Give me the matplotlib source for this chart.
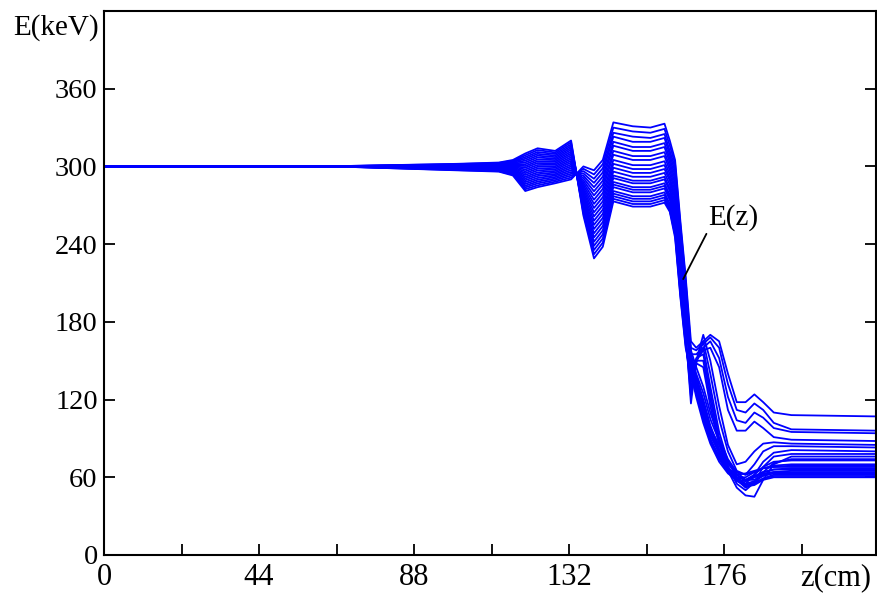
import matplotlib
matplotlib.use("Agg")
import matplotlib.pyplot as plt

plt.rcParams["font.family"] = ["Liberation Serif", "DejaVu Serif"]

# axial positions (cm) at which every particle energy is sampled
z_cm = [0, 60, 70, 100, 112, 116, 119.5, 123, 128, 132.5, 136, 139, 141.5,
        144.5, 150, 155, 159, 160.5, 162, 163.5, 165, 166.5, 168, 170, 172,
        174.5, 177, 179.5, 182, 184.5, 187, 190, 195, 219]

# particle energies (keV) along z, one list per particle
track_00 = [300, 300, 299.6, 297.0, 296.0, 293.0, 281.0, 284.0, 287.0, 290.0, 300.0, 297.0, 305.0,
            334, 331, 330, 333, 320, 305, 258, 215,
            165, 160, 165, 170, 165, 140, 118, 118, 124, 118, 110, 108, 107]
track_01 = [300, 300, 299.6, 297.2, 296.3, 293.6, 282.4, 285.4, 288.2, 291.4, 298.2, 293.8, 301.8,
            330, 327, 326, 329, 316, 302, 255, 212,
            160, 158, 163, 168, 160, 132, 112, 110, 117, 112, 102, 97, 96]
track_02 = [300, 300, 299.7, 297.5, 296.7, 294.1, 283.8, 286.9, 289.4, 292.9, 296.4, 290.5, 298.6,
            326, 323, 322, 325, 312, 299, 252, 209,
            155, 155, 160, 165, 152, 122, 104, 102, 110, 106, 98, 95, 94]
track_03 = [300, 300, 299.7, 297.7, 297.0, 294.7, 285.1, 288.3, 290.6, 294.3, 294.6, 287.3, 295.4,
            323, 319, 319, 322, 309, 296, 249, 206,
            150, 150, 158, 160, 145, 112, 96, 96, 103, 98, 91, 89, 88]
track_04 = [300, 300, 299.8, 298.0, 297.3, 295.3, 286.5, 289.7, 291.8, 295.7, 292.8, 284.0, 292.2,
            319, 315, 315, 318, 306, 293, 246, 202,
            150, 135, 115, 98, 85, 72, 62, 58, 62, 68, 72, 73, 73]
track_05 = [300, 300, 299.8, 298.2, 297.7, 295.9, 287.9, 291.1, 293.0, 297.1, 291.0, 280.8, 289.0,
            316, 312, 312, 315, 303, 290, 243, 200,
            148, 130, 110, 92, 80, 70, 64, 62, 64, 67, 69, 70, 70]
track_06 = [300, 300, 299.8, 298.4, 298.0, 296.4, 289.3, 292.6, 294.1, 298.6, 289.1, 277.6, 285.9,
            312, 308, 308, 311, 300, 287, 240, 198,
            152, 138, 120, 100, 82, 68, 60, 60, 64, 67, 68, 69, 69]
track_07 = [300, 300, 299.9, 298.7, 298.3, 297.0, 290.7, 294.0, 295.3, 300.0, 287.3, 274.3, 282.7,
            309, 305, 305, 308, 297, 284, 237, 196,
            145, 128, 108, 90, 76, 66, 62, 63, 65, 67, 68, 68, 68]
track_08 = [300, 300, 299.9, 298.9, 298.7, 297.6, 292.0, 295.4, 296.5, 301.4, 285.5, 271.1, 279.5,
            305, 301, 301, 304, 294, 281, 234, 193,
            155, 140, 125, 105, 88, 72, 62, 57, 60, 64, 66, 67, 67]
track_09 = [300, 300, 299.9, 299.1, 299.0, 298.1, 293.4, 296.9, 297.7, 302.9, 283.7, 267.9, 276.3,
            302, 298, 298, 301, 291, 278, 231, 191,
            142, 125, 105, 88, 75, 66, 60, 58, 61, 64, 66, 66, 66]
track_10 = [300, 300, 300.0, 299.4, 299.3, 298.7, 294.8, 298.3, 298.9, 304.3, 281.9, 264.6, 273.1,
            299, 295, 295, 298, 289, 275, 228, 189,
            158, 145, 130, 110, 90, 74, 64, 58, 58, 62, 64, 65, 65]
track_11 = [300, 300, 300.0, 299.6, 299.7, 299.3, 296.2, 299.7, 300.1, 305.7, 280.1, 261.4, 269.9,
            296, 292, 292, 295, 286, 272, 225, 186,
            140, 122, 102, 86, 72, 63, 58, 57, 60, 63, 64, 64, 64]
track_12 = [300, 300, 300.1, 299.9, 300.0, 299.9, 297.6, 301.1, 301.3, 307.1, 278.3, 258.1, 266.7,
            293, 289, 289, 292, 283, 269, 222, 184,
            147, 132, 112, 94, 78, 66, 58, 55, 57, 61, 63, 63, 63]
track_13 = [300, 300, 300.1, 300.1, 300.3, 300.4, 299.0, 302.6, 302.5, 308.6, 276.5, 254.9, 263.5,
            291, 287, 287, 290, 281, 266, 219, 182,
            153, 137, 118, 98, 80, 67, 59, 54, 55, 59, 62, 62, 62]
track_14 = [300, 300, 300.1, 300.3, 300.7, 301.0, 300.3, 304.0, 303.7, 310.0, 274.7, 251.7, 260.3,
            288, 284, 284, 287, 278, 263, 216, 180,
            144, 127, 106, 89, 74, 64, 57, 54, 56, 59, 61, 61, 61]
track_15 = [300, 300, 300.2, 300.6, 301.0, 301.6, 301.7, 305.4, 304.9, 311.4, 272.9, 248.4, 257.1,
            286, 282, 282, 285, 276, 260, 213, 177,
            150, 134, 114, 95, 79, 66, 58, 53, 54, 58, 60, 60, 60]
track_16 = [300, 300, 300.2, 300.8, 301.3, 302.1, 303.1, 306.9, 306.0, 312.9, 271.0, 245.2, 253.9,
            284, 280, 280, 283, 274, 257, 210, 172,
            117, 150, 170, 150, 115, 85, 70, 72, 80, 86, 87, 86, 85]
track_17 = [300, 300, 300.2, 301.0, 301.7, 302.7, 304.5, 308.3, 307.2, 314.3, 269.2, 241.9, 250.7,
            281, 277, 277, 280, 271, 254, 207, 169,
            122, 148, 165, 140, 105, 80, 65, 62, 70, 80, 84, 84, 83]
track_18 = [300, 300, 300.3, 301.3, 302.0, 303.3, 305.9, 309.7, 308.4, 315.7, 267.4, 238.7, 247.6,
            279, 275, 275, 278, 269, 251, 205, 166,
            128, 150, 160, 130, 95, 72, 60, 55, 62, 72, 79, 81, 80]
track_19 = [300, 300, 300.3, 301.5, 302.3, 303.9, 307.2, 311.1, 309.6, 317.1, 265.6, 235.5, 244.4,
            277, 273, 273, 276, 267, 249, 203, 164,
            133, 152, 155, 125, 90, 68, 55, 50, 56, 68, 76, 78, 78]
track_20 = [300, 300, 300.4, 301.8, 302.7, 304.4, 308.6, 312.6, 310.8, 318.6, 263.8, 232.2, 241.2,
            275, 271, 271, 274, 266, 247, 201, 162,
            138, 150, 150, 120, 88, 65, 52, 46, 45, 58, 70, 76, 76]
track_21 = [300, 300, 300.4, 302.0, 303.0, 305.0, 310.0, 314.0, 312.0, 320.0, 262.0, 229.0, 238.0,
            273, 269, 269, 272, 265, 245, 199, 160,
            140, 148, 145, 115, 85, 68, 58, 52, 55, 64, 71, 74, 74]

tracks = [track_00, track_01, track_02, track_03, track_04, track_05, track_06,
          track_07, track_08, track_09, track_10, track_11, track_12, track_13,
          track_14, track_15, track_16, track_17, track_18, track_19, track_20,
          track_21]

x_ticks = [0, 22, 44, 66, 88, 110, 132, 154, 176, 198]
x_tick_labels = ["0", "", "44", "", "88", "", "132", "", "176", ""]
y_ticks = [0, 60, 120, 180, 240, 300, 360]
y_tick_labels = ["0", "60", "120", "180", "240", "300", "360"]

fig = plt.figure(figsize=(8.78, 5.93), dpi=100)
ax = fig.add_axes([104 / 878, 38 / 593, 772 / 878, 544 / 593])

for e in tracks:
    ax.plot(z_cm, e, color="#0000ff", lw=1.3, solid_joinstyle="round")

ax.set_xlim(0, 219)
ax.set_ylim(0, 420)

ax.set_xticks(x_ticks)
ax.set_xticklabels(x_tick_labels, fontsize=22)
ax.set_yticks(y_ticks)
ax.set_yticklabels(y_tick_labels, fontsize=20.5)
ax.tick_params(axis="both", direction="in", length=8, width=1.3, color="black")
ax.tick_params(axis="y", right=True, pad=4.5)
ax.tick_params(axis="x", top=False, pad=5.5)

for s in ax.spines.values():
    s.set_linewidth(1.5)
    s.set_color("black")

# axis names drawn as plain text like in the original plot
ax.text(197.5, -0.0145, "z(cm)", transform=ax.get_xaxis_transform(),
        ha="left", va="top", fontsize=22)
fig.text(13 / 878, 1 - 35 / 593, "E(keV)", ha="left", va="baseline", fontsize=21)

# label pointing at the energy curve
ax.annotate("E(z)", xy=(164.3, 213), xytext=(171.3, 255),
            fontsize=21, ha="left", va="baseline",
            arrowprops=dict(arrowstyle="-", color="black", lw=1.3,
                            shrinkA=0, shrinkB=0, relpos=(0.0, 0.0)))

fig.savefig("out.png", dpi=100)
